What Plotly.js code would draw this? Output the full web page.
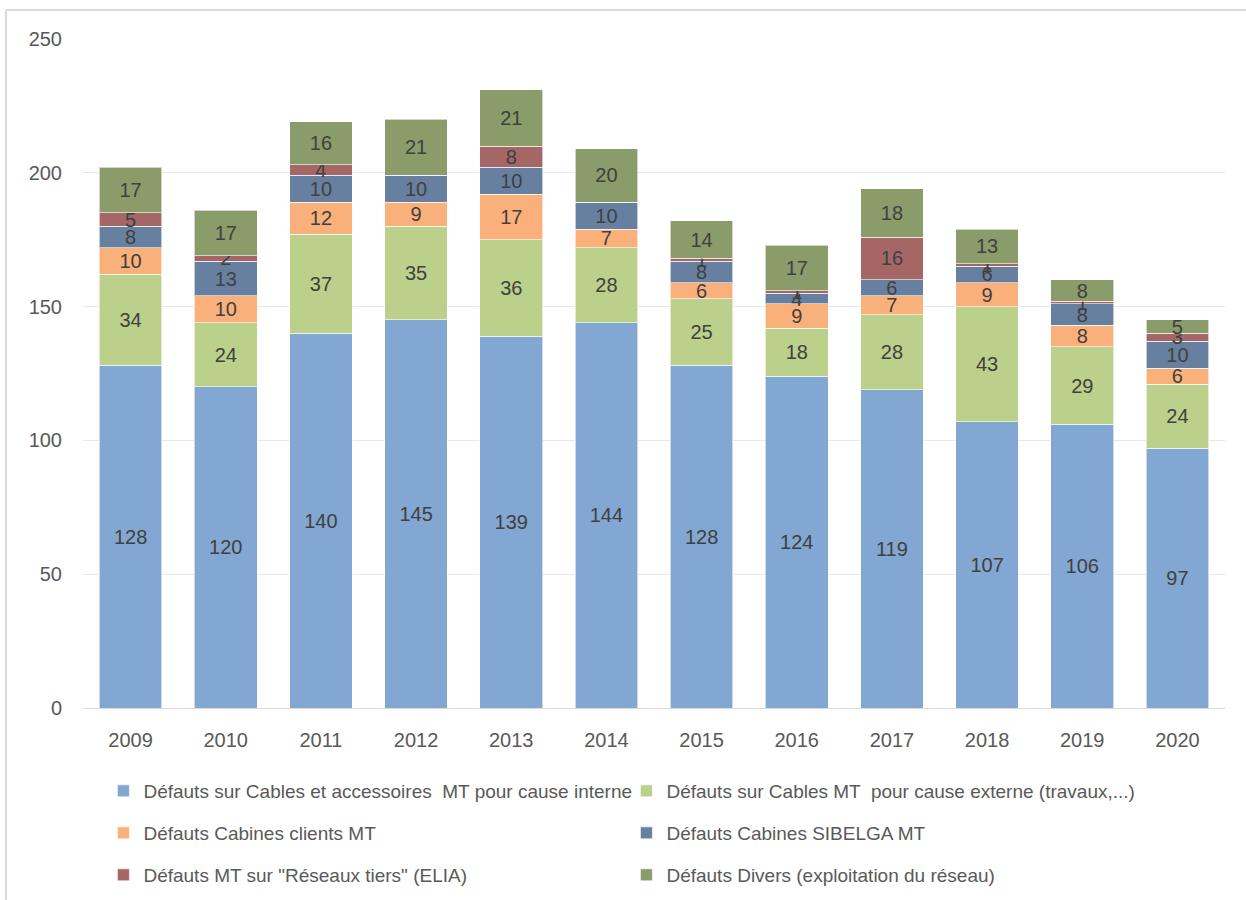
<!DOCTYPE html>
<html>
<head>
<meta charset="utf-8">
<script src="https://cdn.plot.ly/plotly-3.0.1.min.js"></script>
<style>
html,body{margin:0;padding:0;background:#fff;}
#chart{width:1246px;height:900px;}
</style>
</head>
<body>
<div id="chart"></div>
<script>
const years = ['2009','2010','2011','2012','2013','2014','2015','2016','2017','2018','2019','2020'];
const cablesInterne = [128,120,140,145,139,144,128,124,119,107,106,97];
const cablesExterne = [34,24,37,35,36,28,25,18,28,43,29,24];
const cabinesClients = [10,10,12,9,17,7,6,9,7,9,8,6];
const cabinesSibelga = [8,13,10,10,10,10,8,4,6,6,8,10];
const reseauxTiers = [5,2,4,0,8,0,1,1,16,1,1,3];
const divers = [17,17,16,21,21,20,14,17,18,13,8,5];

const seriesNames = [
  'Défauts sur Cables et accessoires  MT pour cause interne',
  'Défauts sur Cables MT  pour cause externe (travaux,...)',
  'Défauts Cabines clients MT',
  'Défauts Cabines SIBELGA MT',
  'Défauts MT sur "Réseaux tiers" (ELIA)',
  'Défauts Divers (exploitation du réseau)'
];
const seriesValues = [cablesInterne, cablesExterne, cabinesClients, cabinesSibelga, reseauxTiers, divers];
const colors = ['#82A7D2','#BBD08A','#F9B07B','#6880A0','#A56666','#8A9C6A'];
const legendIds = ['legend','legend','legend2','legend2','legend3','legend3'];

const FONT = '"Liberation Sans", Arial, sans-serif';

const traces = seriesValues.map((vals, i) => ({
  type: 'bar',
  name: seriesNames[i],
  x: years,
  y: vals,
  text: vals.map(String),
  texttemplate: '%{text}',
  textposition: 'inside',
  insidetextanchor: 'middle',
  textangle: 0,
  constraintext: 'none',
  textfont: {family: FONT, size: 20, color: '#404040'},
  marker: {color: colors[i], line: {color: 'rgba(255,255,255,0.6)', width: 1}},
  legend: legendIds[i],
  hoverinfo: 'x+y+name'
}));

const legendBase = {
  orientation: 'h',
  xref: 'container', yref: 'container',
  xanchor: 'left', yanchor: 'middle',
  entrywidth: 478, entrywidthmode: 'pixels',
  font: {family: FONT, size: 19, color: '#595959'},
  bgcolor: 'rgba(0,0,0,0)',
  itemwidth: 30,
  traceorder: 'normal'
};

const layout = {
  width: 1246, height: 900,
  margin: {l: 83, r: 21, t: 39, b: 192},
  barmode: 'stack',
  bargap: 0.34,
  paper_bgcolor: '#fff',
  plot_bgcolor: '#fff',
  font: {family: FONT, size: 20, color: '#595959'},
  uniformtext: {mode: 'show', minsize: 20},
  xaxis: {
    type: 'category',
    showgrid: false,
    showline: true, linecolor: '#d9d9d9', linewidth: 1,
    ticks: '',
    ticklabelstandoff: 14,
    tickfont: {family: FONT, size: 20, color: '#595959'}
  },
  yaxis: {
    range: [0, 250],
    dtick: 50,
    showgrid: true, gridcolor: '#e8e8e8', gridwidth: 1,
    zeroline: false,
    showline: false,
    ticks: '',
    ticklabelstandoff: 20,
    tickfont: {family: FONT, size: 20, color: '#595959'}
  },
  legend: Object.assign({}, legendBase, {x: 0.083, y: 1 - 791/900}),
  legend2: Object.assign({}, legendBase, {x: 0.083, y: 1 - 833/900}),
  legend3: Object.assign({}, legendBase, {x: 0.083, y: 1 - 875/900}),
  shapes: [
    {type: 'line', xref: 'paper', yref: 'paper',
     x0: (6-83)/1142, x1: (6-83)/1142, y0: (708-10)/669, y1: (708-905)/669,
     line: {color: '#d9d9d9', width: 2}},
    {type: 'line', xref: 'paper', yref: 'paper',
     x0: (6-83)/1142, x1: (1250-83)/1142, y0: (708-10)/669, y1: (708-10)/669,
     line: {color: '#d9d9d9', width: 2}}
  ],
  showlegend: true
};

Plotly.newPlot('chart', traces, layout, {displayModeBar: false, staticPlot: true});
</script>
</body>
</html>
